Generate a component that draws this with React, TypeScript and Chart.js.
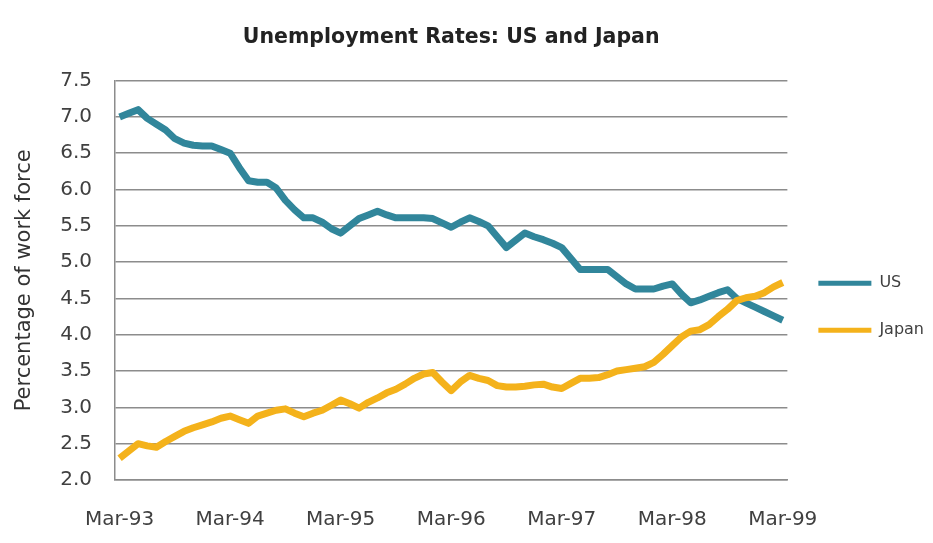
import React, { useEffect, useRef } from "react";
import { Chart, registerables } from "chart.js";

Chart.register(...registerables);

const TITLE = "Unemployment Rates: US and Japan";
const Y_TITLE = "Percentage of work force";
const MONTH_NAMES = ["Mar", "Apr", "May", "Jun", "Jul", "Aug", "Sep", "Oct", "Nov", "Dec", "Jan", "Feb"];
const START_YEAR = 93;
const MONTH_COUNT = 73;

// Monthly values, Mar-93 .. Mar-99
const US = [
  7.0, 7.05, 7.1, 6.98, 6.9, 6.82, 6.7, 6.64, 6.61, 6.6, 6.6, 6.55,
  6.5, 6.3, 6.12, 6.1, 6.1, 6.02, 5.85, 5.72, 5.61, 5.61, 5.55, 5.46,
  5.4, 5.5, 5.6, 5.65, 5.7, 5.65, 5.61, 5.61, 5.61, 5.61, 5.6, 5.54,
  5.48, 5.55, 5.61, 5.56, 5.5, 5.35, 5.2, 5.3, 5.4, 5.35, 5.31, 5.26,
  5.2, 5.05, 4.9, 4.9, 4.9, 4.9, 4.8, 4.7, 4.63, 4.63, 4.63, 4.67,
  4.7, 4.56, 4.44, 4.48, 4.53, 4.58, 4.62, 4.5, 4.44, 4.38, 4.32, 4.26,
  4.2,
];
const JAPAN = [
  2.3, 2.4, 2.5, 2.47, 2.45, 2.53, 2.6, 2.67, 2.72, 2.76, 2.8, 2.85,
  2.88, 2.83, 2.78, 2.88, 2.92, 2.96, 2.98, 2.92, 2.87, 2.92, 2.96, 3.03,
  3.1, 3.05, 2.99, 3.07, 3.13, 3.2, 3.25, 3.32, 3.4, 3.46, 3.48, 3.35,
  3.23, 3.35, 3.44, 3.4, 3.37, 3.3, 3.28, 3.28, 3.29, 3.31, 3.32, 3.28,
  3.26, 3.33, 3.4, 3.4, 3.41, 3.45, 3.5, 3.52, 3.54, 3.56, 3.62, 3.73,
  3.85, 3.97, 4.05, 4.07, 4.14, 4.25, 4.35, 4.47, 4.51, 4.53, 4.58, 4.66,
  4.72,
];
const SERIES_NAMES = ["US", "Japan"];
const SERIES_COLORS = ["#31869B", "#F4B21B"];
const Y_MIN = 2.0;
const Y_MAX = 7.5;
const Y_STEP = 0.5;

function buildLabels(): string[] {
  const out: string[] = [];
  for (let i = 0; i < MONTH_COUNT; i++) {
    const m = i % 12;
    const yr = START_YEAR + Math.floor((i + 2) / 12);
    out.push(`${MONTH_NAMES[m]}-${String(yr % 100).padStart(2, "0")}`);
  }
  return out;
}

export default function App() {
  const ref = useRef<HTMLCanvasElement | null>(null);

  useEffect(() => {
    document.body.style.margin = "0";
    if (!ref.current) return;
    Chart.defaults.font.family = "'DejaVu Sans', sans-serif";
    const labels = buildLabels();
    const gridColor = "#8c8c8c";
    const chart = new Chart(ref.current, {
      type: "line",
      data: {
        labels,
        datasets: [
          {
            label: SERIES_NAMES[0],
            data: US,
            borderColor: SERIES_COLORS[0],
            backgroundColor: SERIES_COLORS[0],
            borderWidth: 7,
            pointRadius: 0,
            tension: 0,
            borderJoinStyle: "round",
            order: 1,
          },
          {
            label: SERIES_NAMES[1],
            data: JAPAN,
            borderColor: SERIES_COLORS[1],
            backgroundColor: SERIES_COLORS[1],
            borderWidth: 7,
            pointRadius: 0,
            tension: 0,
            borderJoinStyle: "round",
            order: 0,
          },
        ],
      },
      options: {
        responsive: false,
        animation: false,
        layout: { padding: { left: 12, right: -1, top: 0, bottom: -17 } },
        plugins: {
          tooltip: { enabled: false },
          title: {
            display: true,
            fullSize: false,
            text: TITLE,
            color: "#222222",
            font: { size: 20.5, weight: "bold" },
            padding: { top: 25, bottom: 31 },
          },
          legend: {
            display: true,
            position: "right",
            fullSize: false,
            title: { display: true, text: " ", font: { size: 10 }, padding: { top: 20, bottom: 21 } },
            labels: {
              usePointStyle: true,
              pointStyleWidth: 53,
              padding: 31,
              color: "#404040",
              font: { size: 16 },
              generateLabels: (c: any) => {
                const items = Chart.defaults.plugins.legend.labels.generateLabels(c);
                return items
                  .sort((a: any, b: any) => a.datasetIndex - b.datasetIndex)
                  .map((it: any) => ({ ...it, pointStyle: "line", lineWidth: 5, strokeStyle: SERIES_COLORS[it.datasetIndex] }));
              },
            },
          },
        },
        scales: {
          x: {
            offset: true,
            grid: { display: false, drawTicks: false },
            border: { display: true, color: gridColor, width: 1.5 },
            ticks: {
              autoSkip: false,
              maxRotation: 0,
              minRotation: 0,
              padding: 28,
              color: "#404040",
              font: { size: 20 },
              callback: (_v: any, i: number) => (i % 12 === 0 ? labels[i] : ""),
            },
          },
          y: {
            min: Y_MIN,
            max: Y_MAX,
            grid: { color: gridColor, lineWidth: 1.5, drawTicks: false },
            border: { display: true, color: gridColor, width: 1.5 },
            ticks: {
              stepSize: Y_STEP,
              padding: 23,
              color: "#404040",
              font: { size: 20 },
              callback: (v: any) => Number(v).toFixed(1),
            },
            title: {
              display: true,
              text: Y_TITLE,
              color: "#333333",
              font: { size: 21 },
              padding: { top: 0, bottom: 0 },
            },
          },
        },
      },
    });
    return () => chart.destroy();
  }, []);

  return (
    <div style={{ width: 933, height: 543 }}>
      <canvas ref={ref} width={933} height={543} />
    </div>
  );
}
